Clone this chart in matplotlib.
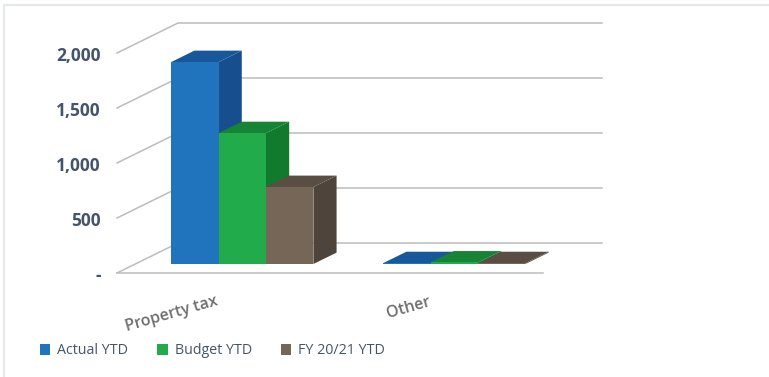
import matplotlib
matplotlib.use("Agg")
import matplotlib.pyplot as plt
from matplotlib.patches import Polygon, Patch

categories = ["Property tax", "Other"]
series_names = ["Actual YTD", "Budget YTD", "FY 20/21 YTD"]
actual_ytd = [1836, 8]
budget_ytd = [1190, 14]
prior_ytd = [700, 8]
y_ticks = [0, 500, 1000, 1500, 2000]
y_tick_labels = ["-", "500", "1,000", "1,500", "2,000"]

front_colors = ["#1f74bd", "#22ab4a", "#766658"]
top_colors = ["#17589b", "#178334", "#5a4e44"]
side_colors = ["#174f8e", "#127a2c", "#4f443c"]

W, H = 769, 377
PX_X = 212.0        # pixels per category
PX_Y = 0.11         # pixels per value unit
X0_PX, Y0_PX = 224.0, 273.0    # category 0, value 0 on the front plane
DEPTH_X = 61 / PX_X
DEPTH_Y = 30 / PX_Y
BAR_W = 47.4 / PX_X
FLOOR_L = (117 - X0_PX) / PX_X
FLOOR_R = (543 - X0_PX) / PX_X
BACK_R = (602 - 61 - X0_PX) / PX_X

plt.rcParams["font.family"] = ["Open Sans", "DejaVu Sans"]

fig = plt.figure(figsize=(W / 100, H / 100), dpi=100)
ax = fig.add_axes([0, 0, 1, 1])
ax.set_xlim(-X0_PX / PX_X, (W - X0_PX) / PX_X)
ax.set_ylim((Y0_PX - H) / PX_Y, Y0_PX / PX_Y)
ax.axis("off")


def project(x, value, depth):
    return x + depth * DEPTH_X, value + depth * DEPTH_Y


# frame only shows on the left and the top
ax.plot([3.5 / W, 3.5 / W, 1], [0, 1 - 5 / H, 1 - 5 / H], transform=ax.transAxes,
        color="#e4e7ef", lw=1.5, solid_joinstyle="miter")

# walls and gridlines
for v, lab in zip(y_ticks, y_tick_labels):
    p0 = project(FLOOR_L, v, 0)
    p1 = project(FLOOR_L, v, 1)
    p2 = project(BACK_R, v, 1)
    ax.plot([p0[0], p1[0], p2[0]], [p0[1], p1[1], p2[1]], color="#bcbcbc", lw=1.1,
            solid_joinstyle="miter", zorder=1)
    ax.text(FLOOR_L - 16 / PX_X, v - 25, lab, ha="right", va="center", fontsize=12.5,
            fontweight="bold", color="#44546a")
ax.plot([FLOOR_L, FLOOR_R], [0, 0], color="#bcbcbc", lw=1.1, zorder=6)

# bars, left to right
for c, cat in enumerate(categories):
    vals = [actual_ytd[c], budget_ytd[c], prior_ytd[c]]
    left = c - 1.5 * BAR_W
    for s, v in enumerate(vals):
        x0, x1 = left + s * BAR_W, left + (s + 1) * BAR_W
        z = 3 + s
        top = [project(x0, v, 0.3), project(x1, v, 0.3), project(x1, v, 0.68), project(x0, v, 0.68)]
        side = [project(x1, 0, 0.3), project(x1, v, 0.3), project(x1, v, 0.68), project(x1, 0, 0.68)]
        front = [project(x0, 0, 0.3), project(x1, 0, 0.3), project(x1, v, 0.3), project(x0, v, 0.3)]
        ax.add_patch(Polygon(side, fc=side_colors[s], ec="none", zorder=z))
        ax.add_patch(Polygon(top, fc=top_colors[s], ec="none", zorder=z))
        ax.add_patch(Polygon(front, fc=front_colors[s], ec="none", zorder=z))

# category labels
label_pos = [(172, 314), (409, 308)]
for cat, (px, py) in zip(categories, label_pos):
    ax.text((px - X0_PX) / PX_X, (Y0_PX - py) / PX_Y, cat, rotation=16, ha="center",
            va="center", fontsize=11.5, fontweight="semibold", color="#6e6e6e",
            rotation_mode="anchor")

handles = [Patch(fc=col, ec="none") for col in front_colors]
ax.legend(handles, series_names, loc="center left", bbox_to_anchor=(40 / W, 1 - 351 / H),
          ncol=3, frameon=False, fontsize=10.3, labelcolor="#44546a", handlelength=0.7,
          handleheight=0.7, handletextpad=0.5, columnspacing=2.05, borderpad=0, borderaxespad=0)

fig.savefig("out.png", dpi=100)
